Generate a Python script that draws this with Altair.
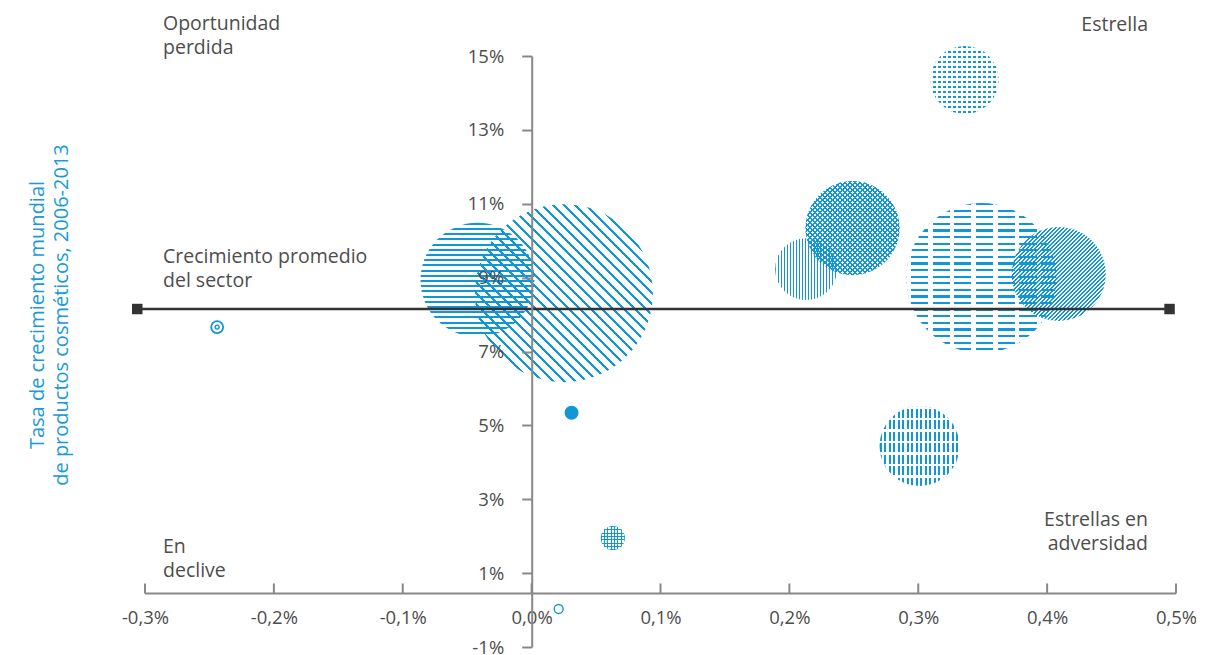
import math
import altair as alt
import pandas as pd

# ---------------- data ----------------
ids = ["A", "B", "C", "D", "E", "F", "G", "H", "I", "J", "K", "L"]
# x: share change (%), y: growth rate 2006-2013 (%), market: bubble magnitude
growth_x = [-0.042, 0.025, 0.213, 0.249, 0.349, 0.409, 0.336, 0.301, 0.031, 0.063, 0.021, -0.244]
growth_y = [8.94, 8.58, 9.23, 10.34, 8.99, 9.10, 14.35, 4.44, 5.34, 1.95, 0.03, 7.66]
market = [32.5, 79.2, 9.6, 22.1, 56.3, 22.1, 11.6, 16.0, 0.49, 1.44, 0.2, 0.36]

avg_growth = 8.15
avg_x = [-0.306, 0.495]
xaxis_level = 0.45

x_ticks = [-0.3, -0.2, -0.1, 0.0, 0.1, 0.2, 0.3, 0.4, 0.5]
y_ticks = [-1, 1, 3, 5, 7, 9, 11, 13, 15]

quad_texts = {
    "tl": ["Oportunidad", "perdida"],
    "tr": ["Estrella"],
    "ml": ["Crecimiento promedio", "del  sector"],
    "bl": ["En", "declive"],
    "br": ["Estrellas en", "adversidad"],
}
y_title = ["Tasa de crecimiento mundial", "de productos cosméticos, 2006-2013"]

df = pd.DataFrame({"id": ids, "x": growth_x, "y": growth_y, "v": market})

# ---------------- style ----------------
BLUE = "#1196d6"
WHITE = "#ffffff"
CLEAR = "rgba(255,255,255,0)"
GREY = "#4d4d4d"
FONT = "Open Sans"
SIZE_PER_UNIT = 400.0
W, H = 1031, 591
SQ2 = math.sqrt(2)

XS = alt.Scale(domain=[-0.3, 0.5], nice=False, zero=False)
YS = alt.Scale(domain=[-1, 15], nice=False, zero=False)
SS = alt.Scale(domain=[0, 100], range=[0, 100 * SIZE_PER_UNIT])

x_label_expr = "(datum.value < 0 ? '-' : '') + replace(format(abs(datum.value), '.1f'), '.', ',') + '%'"

X = alt.X("x:Q", scale=XS, axis=alt.Axis(
    values=x_ticks, domain=False, ticks=False, grid=False, title=None,
    offset=-54.5, labelPadding=16, labelExpr=x_label_expr, labelFont=FONT,
    labelFontSize=18.5, labelColor=GREY, labelFlush=False, labelOverlap=False))
Y = alt.Y("y:Q", scale=YS, axis=alt.Axis(
    values=y_ticks, grid=False, title=None, offset=-386.7,
    domainColor="#888888", domainWidth=2, tickColor="#888888", tickWidth=2,
    tickSize=10, labelPadding=18, labelExpr="datum.value + '%'", labelFont=FONT,
    labelFontSize=18.5, labelColor=GREY, labelFlush=False, labelOverlap=False, zindex=1))
S = alt.Size("v:Q", scale=SS, legend=None)

DIRS = {
    "h": dict(x1=0, y1=0, x2=0, y2=1),
    "v": dict(x1=0, y1=0, x2=1, y2=0),
    "sl": dict(x1=0, y1=0, x2=1, y2=1),
    "bs": dict(x1=1, y1=0, x2=0, y2=1),
}


def stripes(diam, direction, period, width, color):
    """period: pixel spacing measured horizontally (for diagonals) or across (h/v)."""
    diag = direction in ("sl", "bs")
    length = diam * (SQ2 if diag else 1.0)
    step = (period / SQ2 if diag else period) / length
    wfrac = width / length
    stops = []
    a = 0.0
    while a < 1.0 - 1e-9:
        b = min(a + wfrac, 1.0)
        c = min(a + step, 1.0)
        stops += [
            {"offset": round(a, 5), "color": color},
            {"offset": round(b, 5), "color": color},
            {"offset": round(b, 5), "color": CLEAR},
            {"offset": round(c, 5), "color": CLEAR},
        ]
        a += step
    g = {"gradient": "linear", "stops": stops}
    g.update(DIRS[direction])
    return g


patterns = {
    "A": [("h", 5.2, 2.0, BLUE)],
    "B": [("bs", 11, 2.2, BLUE)],
    "C": [("v", 3.0, 1.1, BLUE)],
    "D": [("sl", 5, 1.2, BLUE), ("bs", 5, 1.2, BLUE)],
    "E": [("h", 6.6, 2.3, BLUE), ("v", 21.7, 4.5, WHITE)],
    "F": [("sl", 4, 1.2, BLUE)],
    "G": [("h", 5, 2.2, BLUE), ("v", 5, 2.8, WHITE)],
    "H": [("v", 4.5, 2.0, BLUE), ("h", 11.5, 2.5, WHITE)],
    "J": [("h", 3.3, 1.0, BLUE), ("v", 3.3, 1.0, BLUE)],
}

layers = []
for bid, val in zip(ids, market):
    src = alt.Chart(df).transform_filter(alt.datum.id == bid)
    diam = math.sqrt(val * SIZE_PER_UNIT)
    if bid in patterns:
        for (d, p, w, col) in patterns[bid]:
            layers.append(src.mark_circle(fill=stripes(diam, d, p, w, col), opacity=1,
                                          strokeWidth=0).encode(x=X, y=Y, size=S))
    elif bid == "I":
        layers.append(src.mark_circle(color=BLUE, opacity=1).encode(x=X, y=Y, size=S))
    elif bid == "K":
        layers.append(src.mark_point(shape="circle", filled=False, color=BLUE, opacity=1,
                                     strokeWidth=1.4).encode(x=X, y=Y, size=S))
    elif bid == "L":
        layers.append(src.mark_point(shape="circle", filled=False, color=BLUE, opacity=1,
                                     strokeWidth=1.8).encode(x=X, y=Y, size=S))
        layers.append(src.mark_point(shape="circle", filled=False, color=BLUE, opacity=1,
                                     strokeWidth=1.4).encode(x=X, y=Y, size=alt.value(16)))

# x-axis line and upward ticks
xaxis_df = pd.DataFrame({"x": [x_ticks[0], x_ticks[-1]], "y": [xaxis_level, xaxis_level]})
layers.append(alt.Chart(xaxis_df).mark_line(color="#888888", strokeWidth=2).encode(x=X, y=Y))
xt_df = pd.DataFrame({"x": x_ticks, "y": [xaxis_level] * len(x_ticks),
                      "y2": [xaxis_level + 10 / 36.94] * len(x_ticks)})
layers.append(alt.Chart(xt_df).mark_rule(color="#888888", strokeWidth=2).encode(
    x=X, y=Y, y2="y2:Q"))

# average growth line
avg_df = pd.DataFrame({"x": avg_x, "y": [avg_growth, avg_growth]})
layers.append(alt.Chart(avg_df).mark_line(color="#333333", strokeWidth=2.5).encode(x=X, y=Y))
layers.append(alt.Chart(avg_df).mark_square(color="#333333", opacity=1, size=110).encode(x=X, y=Y))


# quadrant labels (y = centre of first line, relative to plot area)
def label(lines, px, py, align):
    return alt.Chart(pd.DataFrame({"a": [0]})).mark_text(
        text=lines, align=align, baseline="middle", font=FONT, fontSize=19.5,
        color=GREY, lineHeight=24).encode(x=alt.value(px), y=alt.value(py))


layers.append(label(quad_texts["tl"], 18, -32, "left"))
layers.append(label(quad_texts["tr"], 1003, -31, "right"))
layers.append(label(quad_texts["ml"], 18, 201, "left"))
layers.append(label(quad_texts["bl"], 18, 491, "left"))
layers.append(label(quad_texts["br"], 1003, 464, "right"))

layers.append(alt.Chart(pd.DataFrame({"a": [0]})).mark_text(
    text=y_title, angle=270, align="center", baseline="middle", font=FONT, fontSize=20,
    color="#1a9ad8", lineHeight=24).encode(x=alt.value(-107), y=alt.value(259)))

chart = alt.layer(*layers).properties(
    width=W, height=H,
    autosize=alt.AutoSizeParams(type="none"),
    padding={"left": 137, "top": 48, "right": 20, "bottom": 8},
    background="white",
).configure_view(stroke=None)

chart.save("out.html", embed_options={"renderer": "svg", "actions": False})
